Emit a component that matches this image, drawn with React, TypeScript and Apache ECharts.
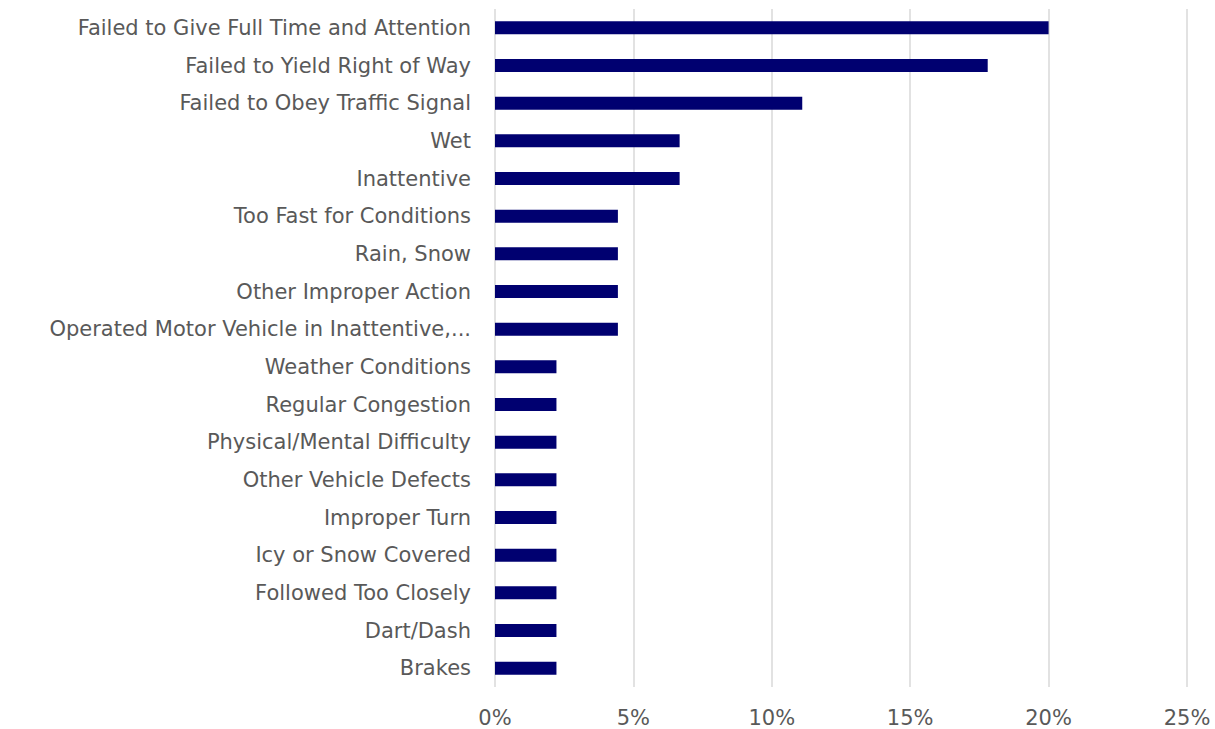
import React, { useEffect, useRef } from "react";
import * as echarts from "echarts";

const categories = [
  "Failed to Give Full Time and Attention",
  "Failed to Yield Right of Way",
  "Failed to Obey Traffic Signal",
  "Wet",
  "Inattentive",
  "Too Fast for Conditions",
  "Rain, Snow",
  "Other Improper Action",
  "Operated Motor Vehicle in Inattentive,...",
  "Weather Conditions",
  "Regular Congestion",
  "Physical/Mental Difficulty",
  "Other Vehicle Defects",
  "Improper Turn",
  "Icy or Snow Covered",
  "Followed Too Closely",
  "Dart/Dash",
  "Brakes",
];

const values = [
  0.2, 0.178, 0.111, 0.0667, 0.0667, 0.0444, 0.0444, 0.0444, 0.0444,
  0.0222, 0.0222, 0.0222, 0.0222, 0.0222, 0.0222, 0.0222, 0.0222, 0.0222,
];

const xTicks = { min: 0, max: 0.25, interval: 0.05 };

export default function App() {
  const ref = useRef<HTMLDivElement>(null);
  useEffect(() => {
    document.body.style.margin = "0";
    if (!ref.current) return;
    const chart = echarts.init(ref.current, null, { renderer: "svg" });
    const font = "'DejaVu Sans', sans-serif";
    chart.setOption({
      animation: false,
      grid: { left: 495, right: 28, top: 9, bottom: 42, containLabel: false },
      xAxis: {
        type: "value",
        min: xTicks.min,
        max: xTicks.max,
        interval: xTicks.interval,
        axisLine: { show: false },
        axisTick: { show: false },
        splitLine: { show: true, lineStyle: { color: "#d9d9d9", width: 1.5 } },
        axisLabel: {
          formatter: (v: number) => Math.round(v * 100) + "%",
          color: "#595959",
          fontSize: 21,
          fontFamily: font,
          margin: 20,
        },
      },
      yAxis: {
        type: "category",
        inverse: true,
        data: categories,
        axisLine: { show: false },
        axisTick: { show: false },
        axisLabel: {
          color: "#595959",
          fontSize: 21,
          fontFamily: font,
          margin: 24,
        },
      },
      series: [
        {
          type: "bar",
          data: values,
          barWidth: 13,
          itemStyle: { color: "#000070" },
        },
      ],
    });
    return () => chart.dispose();
  }, []);
  return <div ref={ref} style={{ width: 1215, height: 729 }} />;
}
